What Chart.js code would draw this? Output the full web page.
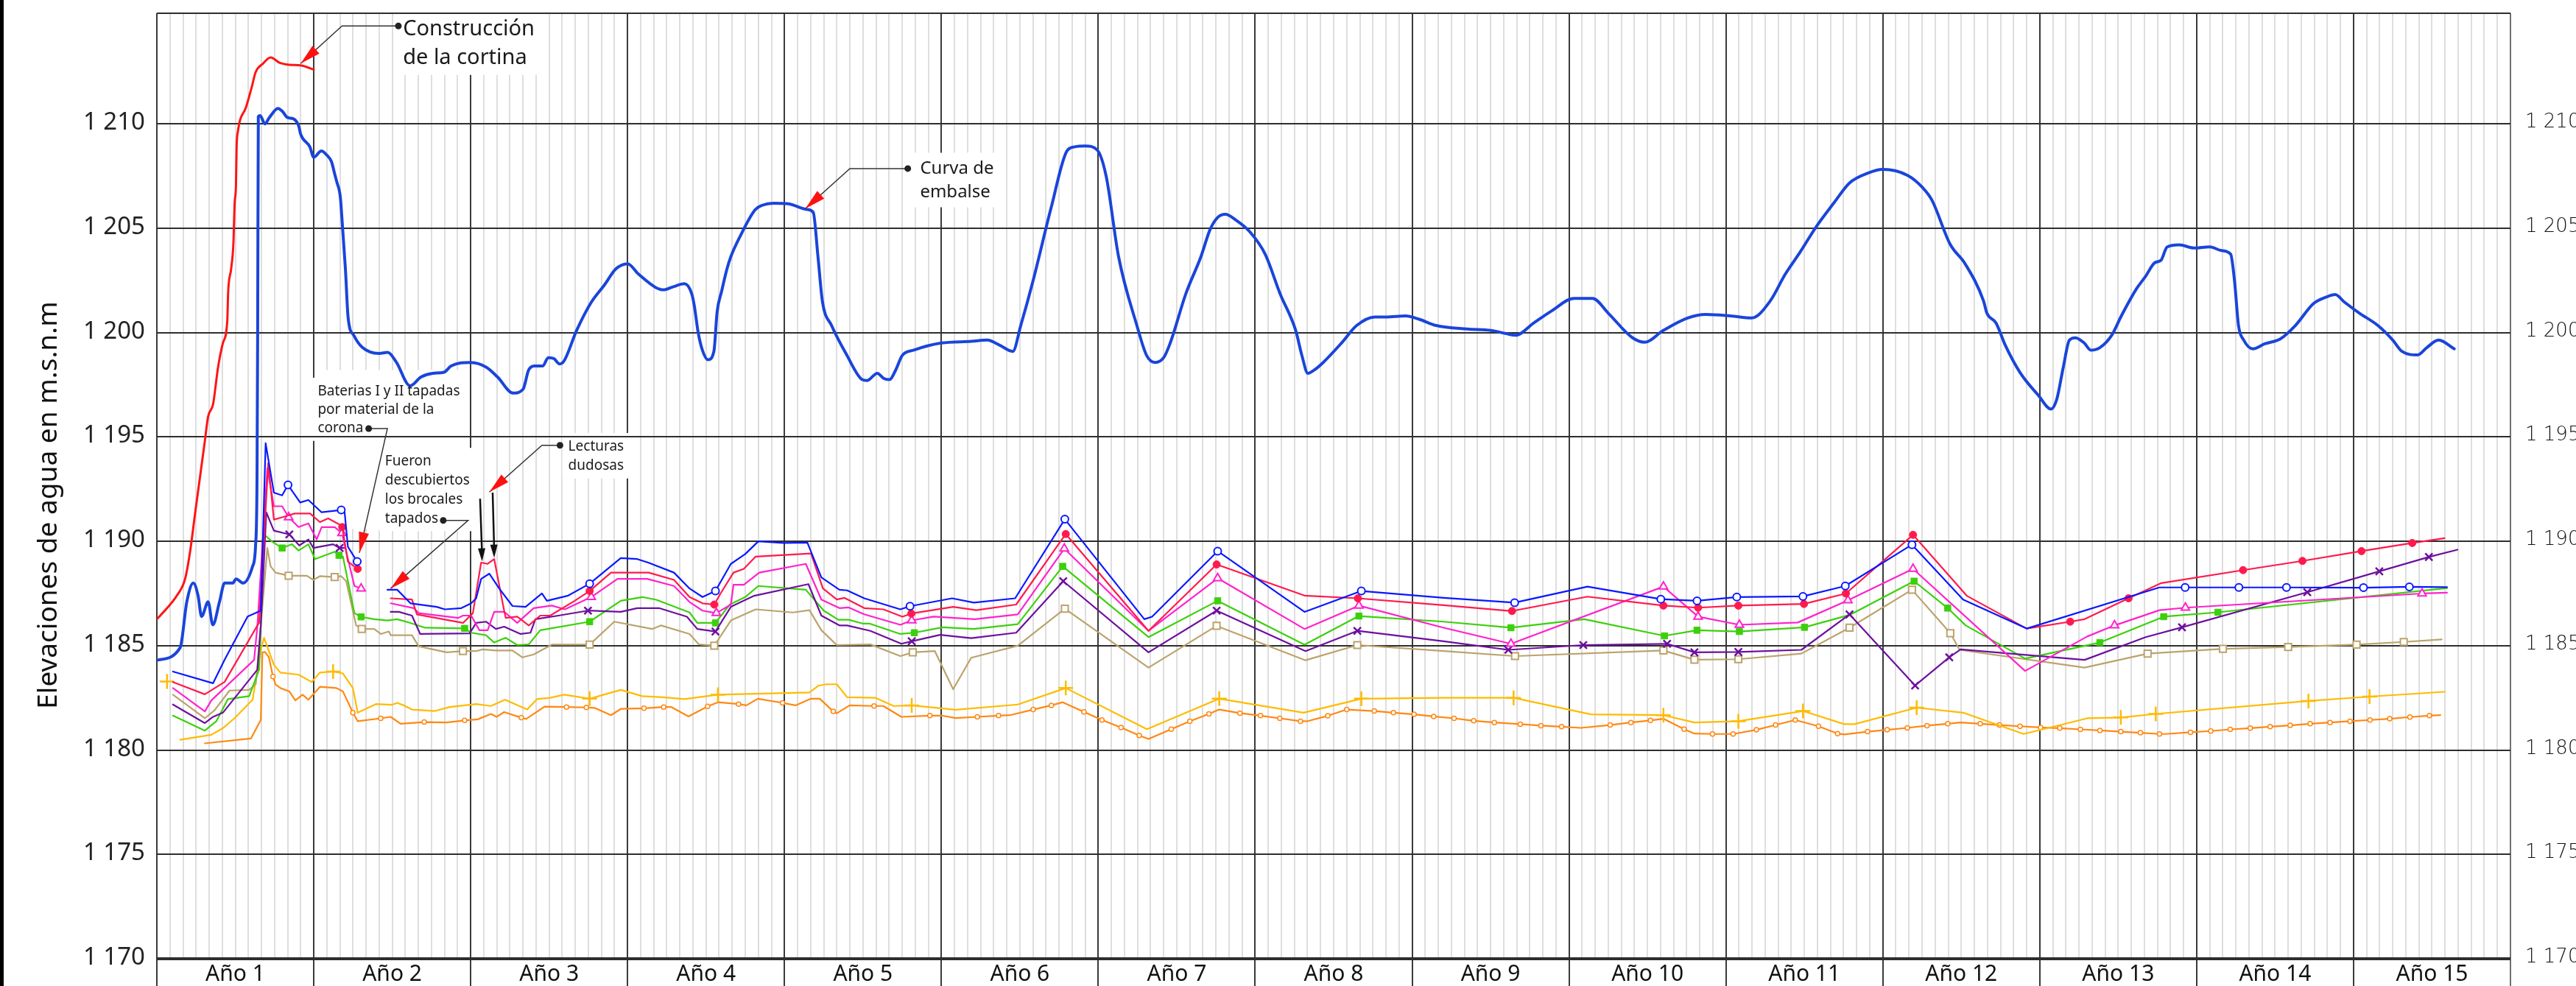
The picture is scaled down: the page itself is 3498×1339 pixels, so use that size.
<!DOCTYPE html>
<html lang="es">
<head>
<meta charset="utf-8">
<title>Elevaciones de agua</title>
<script src="https://cdn.jsdelivr.net/npm/chart.js@4.4.1/dist/chart.umd.min.js"></script>
<style>
  html, body { margin: 0; padding: 0; background: #fff; }
  canvas { display: block; }
</style>
</head>
<body>
<canvas id="chart" width="3498" height="1339" style="width:3498px;height:1339px"></canvas>
<script>
// x = months from the start of year 1, y = elevation (m.s.n.m)
const yearLabels = ["Año 1", "Año 2", "Año 3", "Año 4", "Año 5", "Año 6", "Año 7", "Año 8",
  "Año 9", "Año 10", "Año 11", "Año 12", "Año 13", "Año 14", "Año 15"];
const tickValues = [1170, 1175, 1180, 1185, 1190, 1195, 1200, 1205, 1210];
const tickText = ["1 170", "1 175", "1 180", "1 185", "1 190", "1 195", "1 200", "1 205", "1 210"];
const yTitle = "Elevaciones de agua en m.s.n.m";

// reservoir level
const embalse = [[0,1184.3],[1.78,1184.9],[2.29,1187.1],[2.79,1188.0],[3.15,1187.4],[3.42,1186.4],[3.92,1187.1],
  [4.28,1186.0],[4.79,1187.1],[5.18,1188.0],[5.8,1188.0],[6.06,1188.2],[6.6,1188.0],[7.32,1188.8],[7.55,1189.8],
  [7.66,1193.0],[7.71,1200],[7.76,1210.35],[7.9,1210.4],[8.26,1210.0],[8.6,1210.3],[9.27,1210.74],[9.6,1210.6],
  [10.0,1210.3],[10.42,1210.25],[10.85,1209.9],[11.0,1209.5],[11.7,1208.9],[12.0,1208.4],[12.58,1208.7],
  [13.0,1208.5],[13.35,1208.2],[13.6,1207.6],[13.77,1207.2],[14.03,1206.5],[14.2,1205.05],[14.42,1203.05],
  [14.63,1200.7],[15.06,1199.87],[15.7,1199.3],[17.0,1199.0],[17.65,1199.05],[18.3,1198.6],[19.37,1197.45],
  [20.2,1197.87],[21.1,1198.05],[21.96,1198.1],[22.5,1198.4],[24.0,1198.57],[25.2,1198.34],[26.06,1197.87],
  [27.24,1197.1],[28.0,1197.28],[28.43,1198.2],[28.86,1198.4],[29.5,1198.4],[29.94,1198.8],[30.37,1198.75],
  [30.8,1198.5],[31.13,1198.63],[32.1,1200.1],[33.17,1201.4],[34.25,1202.3],[35.1,1203.05],[36.0,1203.3],
  [36.84,1202.8],[38.13,1202.17],[38.74,1202.05],[39.5,1202.2],[40.35,1202.34],[40.9,1201.87],[41.1,1201.3],
  [41.4,1200.0],[41.7,1199.2],[42.15,1198.7],[42.6,1199.1],[42.85,1201.0],[43.2,1202.0],[43.6,1203.05],
  [43.9,1203.64],[44.58,1204.58],[45.75,1205.88],[46.3,1206.1],[47.15,1206.2],[48.3,1206.17],[49.72,1205.9],
  [50.2,1205.76],[50.56,1203.64],[50.9,1201.5],[51.6,1200.34],[52.76,1198.93],[53.93,1197.75],[54.3,1197.7],
  [55.1,1198.05],[55.6,1197.8],[56.03,1197.75],[56.5,1198.2],[57.0,1198.9],[57.9,1199.16],[60.0,1199.5],
  [62.3,1199.58],[63.5,1199.64],[64.44,1199.4],[65.46,1199.1],[66.07,1200.34],[67.0,1202.46],[68.4,1206.0],
  [69.6,1208.7],[70.2,1208.9],[71.0,1208.94],[71.9,1208.76],[72.6,1207.5],[73.55,1203.64],[74.95,1200.34],
  [75.7,1198.9],[76.35,1198.57],[77.0,1198.8],[77.5,1199.5],[78.7,1201.87],[79.85,1203.64],[80.55,1204.94],
  [81.1,1205.5],[81.72,1205.67],[82.5,1205.4],[83.6,1204.82],[84.76,1203.76],[85.9,1201.87],[87.1,1200.1],
  [87.56,1198.93],[88.03,1198.05],[88.5,1198.2],[89.2,1198.57],[90.6,1199.5],[91.76,1200.34],[93.16,1200.75],
  [94.0,1200.75],[95.5,1200.8],[96.5,1200.65],[97.84,1200.34],[100.2,1200.17],[102.05,1200.1],[103.2,1199.95],
  [103.9,1199.87],[105.3,1200.46],[106.7,1201.05],[108.36,1201.64],[109.8,1201.64],[111.0,1200.93],
  [112.86,1199.75],[113.8,1199.54],[115.2,1200.1],[117.07,1200.7],[118.47,1200.87],[120.34,1200.8],
  [121.97,1200.7],[123.37,1201.5],[124.54,1202.8],[125.7,1203.88],[126.88,1205.05],[128.28,1206.23],
  [129.45,1207.17],[130.85,1207.64],[132.0,1207.82],[133.9,1207.53],[135.05,1206.94],[135.75,1206.35],
  [137.15,1204.23],[138.3,1203.29],[139.7,1201.52],[139.96,1200.93],[140.66,1200.46],[141.36,1199.4],
  [142.53,1198.05],[143.9,1196.99],[144.86,1196.34],[145.3,1196.8],[145.8,1198.34],[146.27,1199.64],
  [146.73,1199.75],[147.4,1199.5],[147.9,1199.16],[148.6,1199.28],[149.5,1199.87],[150.24,1200.8],
  [151.4,1202.1],[152.1,1202.7],[152.8,1203.35],[153.27,1203.46],[153.74,1204.1],[154.67,1204.2],
  [155.84,1204.05],[157.0,1204.11],[157.9,1203.93],[158.6,1203.76],[158.9,1202.46],[159.2,1200.34],
  [159.6,1199.64],[160.3,1199.22],[161.2,1199.46],[162.4,1199.7],[163.55,1200.34],[164.95,1201.4],
  [165.9,1201.7],[166.6,1201.82],[167.3,1201.46],[168.45,1200.93],[169.86,1200.34],[171.0,1199.64],
  [171.7,1199.1],[172.9,1198.93],[173.6,1199.28],[174.5,1199.64],[175.7,1199.22]];

// crest level while the dam was being built
const cortina = [[0,1186.27],[0.78,1186.8],[1.53,1187.4],[2.16,1188.2],[2.54,1189.5],[2.91,1191.27],
  [3.29,1193.04],[3.67,1194.8],[3.92,1195.98],[4.3,1196.57],[4.68,1198.34],[5.05,1199.5],[5.39,1200.6],
  [5.45,1201.9],[5.68,1203.05],[5.85,1204.23],[5.95,1206.2],[6.05,1207.05],[6.1,1208.9],[6.2,1209.64],
  [6.83,1210.82],[7.26,1211.77],[7.55,1212.47],[8.12,1212.89],[8.7,1213.18],[9.41,1212.92],[10.13,1212.83],
  [11.0,1212.8],[12.0,1212.6]];

// piezometer readings: [month, elevation, 1 = marked reading]
const pzAzul = [[1.23,1183.76],[4.3,1183.2],[5.18,1184.32],[6.94,1186.4],[7.95,1186.68],[8.32,1194.7],
  [8.95,1192.33],[9.58,1192.2],[10.03,1192.7,1],[10.96,1191.86],[11.59,1191.98],[12.6,1191.39],[14.1,1191.5,1],
  [14.36,1191.39],[14.61,1189.74],[15.32,1189.03,1],[16.5,null],[17.63,1187.68],[18.38,1187.68],[19.4,1187.03],
  [21.4,1186.86],[22.03,1186.74],[23.29,1186.8],[24.04,1187.03],[24.42,1187.27],[24.8,1188.2],[25.43,1188.45],
  [26.18,1187.74],[27.2,1186.9],[28.2,1186.86],[29.45,1187.5],[29.83,1187.15],[31.46,1187.4],[33.1,1187.97,1],
  [35.48,1189.2],[36.74,1189.15],[37.58,1188.98],[39.55,1188.5],[40.74,1187.74],[41.73,1187.33],
  [42.72,1187.62,1],[43.9,1188.92],[45.0,1189.39],[46.0,1190.0],[47.93,1189.92],[49.75,1189.94],
  [50.82,1188.27],[52.2,1187.68],[52.79,1187.65],[54.1,1187.27],[56.86,1186.74],[57.6,1186.89,1],
  [60.82,1187.27],[62.48,1187.06],[65.64,1187.27],[69.44,1191.06,1],[75.52,1186.27],[76.11,1186.39],
  [81.13,1189.53,1],[87.77,1186.62],[92.12,1187.62,1],[98.42,1187.29],[103.84,1187.06,1],[109.41,1187.83],
  [115.02,1187.23,1],[117.79,1187.15,1],[120.83,1187.33,1],[125.89,1187.36,1],[129.13,1187.86,1],
  [134.23,1189.84,1],[138.14,1187.21],[143.0,1185.82],[153.15,1187.79],[155.12,1187.79,1],[159.23,1187.79,1],
  [162.87,1187.79,1],[168.76,1187.78,1],[172.27,1187.82,1],[175.15,1187.8]];

const pzRojo = [[1.23,1183.26],[3.67,1182.67],[5.18,1183.26],[7.69,1185.97],[7.82,1186.09],[8.52,1193.75],
  [8.95,1191.04],[9.58,1191.15],[10.53,1191.33],[11.72,1191.33],[12.47,1190.92],[13.1,1191.1],[13.98,1190.8],
  [14.18,1190.68,1],[14.61,1189.03],[15.36,1188.68,1],[16.5,null],[17.88,1187.27],[19.51,1187.21],
  [19.89,1186.5],[23.41,1186.09],[24.17,1186.56],[24.8,1188.98],[25.3,1188.92],[25.8,1189.15],[26.56,1186.68],
  [26.68,1186.33],[27.56,1186.39],[28.44,1185.97],[29.32,1186.44],[30.08,1186.44],[31.96,1187.15],
  [33.1,1187.62,1],[34.73,1188.5],[37.62,1188.5],[39.55,1188.15],[40.74,1187.33],[41.73,1187.03],
  [42.63,1186.97,1],[43.11,1187.5],[44.1,1188.5],[44.89,1188.68],[45.8,1189.27],[50.03,1189.42],
  [50.94,1187.74],[52.0,1187.21],[52.6,1187.29],[54.1,1186.8],[55.56,1186.74],[57.02,1186.39],
  [57.7,1186.54,1],[60.9,1186.86],[62.67,1186.7],[65.72,1186.97],[69.51,1190.35,1],[75.84,1185.71],
  [81.05,1188.89,1],[87.77,1187.4],[91.85,1187.27,1],[98.42,1186.94],[103.64,1186.66,1],[109.41,1187.35],
  [115.22,1186.92,1],[117.87,1186.82,1],[120.95,1186.92,1],[125.97,1187.0,1],[129.17,1187.5,1],
  [134.31,1190.31,1],[138.42,1187.39],[143.0,1185.82],[146.33,1186.15,1],[147.43,1186.27],[150.79,1187.27,1],
  [153.3,1188.0],[159.55,1188.62,1],[164.09,1189.06,1],[168.61,1189.53,1],[172.49,1189.92,1],[174.96,1190.15]];

const pzRosa = [[1.23,1182.97],[3.67,1181.85],[4.17,1182.38],[7.44,1184.32],[7.69,1185.97],[8.45,1193.5],
  [8.95,1191.68],[9.58,1191.68],[10.08,1191.15,1],[10.84,1190.68],[11.59,1190.86],[12.22,1190.09],
  [12.6,1190.68],[13.6,1190.68],[14.16,1190.39,1],[14.48,1189.5],[15.11,1187.86],[15.62,1187.74,1],[16.5,null],
  [17.88,1187.03],[19.64,1186.8],[20.02,1186.56],[23.04,1186.33],[23.41,1186.44],[24.04,1186.44],
  [24.67,1185.74],[25.3,1185.74],[25.8,1186.62],[26.56,1186.62],[27.56,1186.09],[28.82,1186.8],[30.2,1186.92],
  [31.21,1186.74],[33.22,1187.33,1],[35.23,1188.2],[37.5,1188.2],[39.55,1187.86],[40.74,1187.09],
  [41.73,1186.68],[42.79,1186.56,1],[43.9,1186.97],[44.1,1187.92],[44.89,1187.92],[46.07,1188.5],
  [49.63,1188.92],[50.82,1187.21],[52.2,1186.8],[52.91,1186.83],[54.1,1186.5],[56.86,1186.0],
  [57.73,1186.21,1],[59.4,1186.39],[62.56,1186.27],[65.84,1186.5],[69.4,1189.65,1],[75.84,1185.71],
  [81.13,1188.23,1],[87.77,1185.8],[91.93,1186.92,1],[98.42,1185.86],[103.56,1185.09,1],[115.22,1187.83,1],
  [117.87,1186.39,1],[121.03,1186.0,1],[125.5,1186.11],[129.33,1187.17,1],[134.31,1188.68,1],
  [142.88,1183.79],[147.63,1185.44],[149.72,1185.97,1],[153.16,1186.7],[155.14,1186.82,1],
  [173.24,1187.5,1],[175.15,1187.54]];

const pzMorado = [[1.23,1182.18],[3.67,1181.29],[4.3,1181.59],[5.05,1181.79],[7.69,1183.85],[7.95,1185.97],
  [8.37,1191.39],[8.95,1190.51],[10.13,1190.33,1],[10.89,1189.8],[11.59,1190.09],[11.97,1189.68],
  [13.48,1189.86],[13.98,1189.68,1],[14.31,1189.68],[16.5,null],[17.88,1186.62],[18.51,1186.62],
  [19.51,1186.44],[20.14,1185.56],[23.92,1185.59],[24.42,1186.09],[25.17,1186.15],[25.93,1185.8],
  [26.56,1185.91],[27.82,1185.56],[28.57,1185.62],[28.95,1186.27],[30.71,1186.44],[32.97,1186.68,1],
  [35.48,1186.62],[36.74,1186.8],[38.4,1186.8],[40.54,1186.39],[41.33,1185.8],[42.72,1185.68,1],
  [43.9,1186.86],[45.68,1187.39],[49.83,1187.95],[50.82,1186.44],[52.2,1185.97],[52.79,1185.97],
  [54.57,1185.71],[56.94,1185.09],[57.73,1185.21,1],[59.9,1185.52],[62.28,1185.36],[65.72,1185.62],
  [69.32,1188.09,1],[75.84,1184.68],[81.05,1186.68,1],[87.85,1184.74],[91.81,1185.71,1],[98.42,1185.21],
  [103.36,1184.8,1],[109.09,1185.03,1],[115.5,1185.09,1],[117.59,1184.68,1],[120.95,1184.7,1],
  [125.77,1184.8],[129.45,1186.5,1],[134.47,1183.09,1],[137.08,1184.44,1],[137.95,1184.82],
  [147.43,1184.32],[152.1,1185.41],[154.88,1185.88,1],[164.46,1187.56,1],[169.97,1188.56,1],
  [173.76,1189.25,1],[175.95,1189.6]];

const pzVerde = [[1.23,1181.65],[3.67,1180.93],[4.55,1181.38],[5.43,1182.44],[7.06,1182.58],[7.82,1183.85],
  [8.2,1190.33],[8.82,1189.98],[9.58,1189.68,1],[10.33,1189.86],[10.84,1189.56],[11.59,1189.86],[12.1,1189.15],
  [13.6,1189.5],[13.93,1189.33,1],[14.23,1189.27],[15.11,1186.56],[15.62,1186.38,1],[16.62,1186.27],
  [17.63,1186.21],[18.38,1186.27],[19.39,1186.09],[20.52,1185.86],[23.54,1185.83,1],[24.04,1185.62],
  [25.17,1185.5],[25.8,1185.15],[26.68,1185.38],[27.56,1185.03],[28.44,1185.06],[29.32,1185.74],
  [33.1,1186.15,1],[35.48,1187.15],[37.12,1187.33],[38.2,1187.2],[40.74,1186.59],[41.33,1186.09],
  [42.72,1186.09,1],[43.82,1186.97],[45.0,1187.33],[46.0,1187.86],[49.63,1187.68],[51.0,1186.68],
  [52.12,1186.24],[52.9,1186.24],[53.98,1186.06],[54.49,1186.06],[56.86,1185.56],[57.93,1185.62,1],
  [60.1,1185.88],[62.48,1185.8],[65.84,1186.03],[69.28,1188.8,1],[75.84,1185.41],[81.13,1187.15,1],
  [87.77,1185.05],[91.93,1186.42,1],[98.42,1186.15],[103.56,1185.86,1],[109.17,1186.27],[115.3,1185.47,1],
  [117.79,1185.74,1],[121.03,1185.68,1],[126.01,1185.88,1],[129.45,1186.47],[134.39,1188.09,1],
  [136.96,1186.8,1],[138.34,1185.97],[142.88,1184.38],[148.6,1185.15,1],[153.48,1186.39,1],
  [157.63,1186.6,1],[175.15,1187.76]];

const pzCafe = [[1.23,1182.65],[3.67,1181.52],[4.42,1181.91],[5.56,1182.85],[7.06,1182.88],[7.57,1183.17],
  [7.95,1185.97],[8.45,1189.68],[8.7,1188.8],[9.08,1188.5],[10.08,1188.35,1],[11.47,1188.35],[11.97,1188.15],
  [12.47,1188.33],[13.6,1188.29,1],[14.1,1188.33],[14.48,1188.09],[15.24,1185.97],[15.67,1185.8,1],
  [16.62,1185.8],[17.12,1185.56],[17.75,1185.68],[17.88,1185.5],[19.51,1185.5],[20.02,1184.97],
  [22.16,1184.68],[23.41,1184.74,1],[24.42,1184.74],[24.92,1184.82],[25.93,1184.77],[27.2,1184.77],
  [27.94,1184.44],[28.82,1184.58],[30.2,1185.05],[33.1,1185.05,1],[34.98,1186.15],[37.88,1185.8],
  [38.57,1185.97],[40.74,1185.56],[41.45,1185.06],[42.63,1185.0,1],[43.9,1186.21],[45.8,1186.74],
  [48.64,1186.59],[49.91,1186.7],[50.82,1185.74],[52.0,1185.03],[54.57,1185.06],[56.86,1184.5],
  [57.81,1184.68,1],[59.5,1184.74],[60.9,1182.91],[62.28,1184.42],[65.84,1185.0],[69.44,1186.77,1],
  [75.84,1183.95],[81.05,1185.95,1],[87.85,1184.3],[91.81,1185.03,1],[98.42,1184.74],[103.87,1184.5,1],
  [115.22,1184.77,1],[117.59,1184.33,1],[120.95,1184.35,1],[125.77,1184.62],[129.45,1185.86,1],
  [134.23,1187.68,1],[137.16,1185.6,1],[137.87,1184.8],[147.43,1183.95],[152.25,1184.62,1],
  [158.01,1184.85,1],[163.0,1184.94,1],[168.23,1185.05,1],[171.84,1185.18,1],[174.74,1185.3]];

const pzAmarillo = [[0.78,1183.28,1],[1.0,null],[1.78,1180.49],[4.17,1180.73],[5.05,1181.05],[5.93,1181.52],
  [7.32,1182.41],[7.95,1184.79],[8.2,1185.38],[8.95,1184.08],[9.45,1183.71],[10.84,1183.61],[11.84,1183.26],
  [12.47,1183.71],[13.48,1183.76,1],[14.23,1183.67],[14.99,1182.97],[15.36,1181.79],[16.75,1182.2],
  [18.0,1182.17],[18.38,1182.26],[18.89,1182.14],[19.51,1181.94],[21.28,1181.87],[22.41,1182.06],
  [24.42,1182.2],[25.55,1182.11],[26.63,1182.41],[28.32,1181.94],[29.07,1182.44],[30.08,1182.5],
  [31.16,1182.65],[33.1,1182.46,1],[35.48,1182.88],[37.12,1182.58],[38.7,1182.53],[40.34,1182.44],
  [42.91,1182.65,1],[49.91,1182.76],[50.62,1183.09],[51.21,1183.15],[52.0,1183.15],[52.79,1182.53],
  [54.97,1182.5],[56.35,1182.11],[57.73,1182.14,1],[61.09,1181.93],[65.84,1182.18],[69.51,1182.97,1],
  [75.72,1181.0],[81.25,1182.46,1],[87.7,1181.79],[92.12,1182.46,1],[98.42,1182.5],[103.76,1182.5,1],
  [109.68,1181.71],[115.22,1181.67,1],[117.59,1181.32],[120.95,1181.38,1],[125.89,1181.87,1],
  [129.05,1181.24],[129.84,1181.24],[134.59,1182.03,1],[138.14,1181.79],[142.77,1180.77],[147.63,1181.52],
  [150.2,1181.56,1],[152.87,1181.73,1],[164.55,1182.35,1],[169.22,1182.56,1],[174.96,1182.79]];

const pzNaranja = [[3.67,1180.32],[7.19,1180.55],[7.95,1181.44],[8.07,1184.67],[8.27,1184.7],[8.57,1184.44],
  [8.88,1183.52,1],[9.08,1183.14],[9.45,1182.97],[10.13,1182.81],[10.59,1182.38],[11.14,1182.65],
  [11.59,1182.41],[12.47,1183.03],[13.73,1182.97],[14.23,1182.81],[14.99,1181.79,1],[15.36,1181.38],
  [17.12,1181.52,1],[17.88,1181.59],[18.64,1181.26],[20.45,1181.34,1],[22.16,1181.32],[23.54,1181.42,1],
  [24.54,1181.47],[25.55,1181.73],[25.98,1181.59],[26.56,1181.82],[27.87,1181.55,1],[28.24,1181.49],
  [29.65,1182.08],[31.33,1182.06,1],[32.85,1182.04,1],[33.47,1182.02],[34.73,1181.67],[35.48,1181.97],
  [37.25,1182.0,1],[38.76,1182.06,1],[39.36,1182.06],[40.66,1181.61],[42.12,1182.09,1],[42.91,1182.29],
  [44.49,1182.2,1],[45.09,1182.14],[45.96,1182.46],[47.85,1182.26,1],[48.84,1182.14],[50.03,1182.46],
  [50.7,1182.46],[51.73,1181.85,1],[52.0,1181.76],[52.99,1182.14],[54.85,1182.11,1],[55.56,1182.11],
  [56.94,1181.59],[59.12,1181.65,1],[60.03,1181.65],[61.09,1181.53],[62.75,1181.59,1],[64.37,1181.65,1],
  [65.24,1181.67],[67.02,1181.94,1],[68.41,1182.14,1],[69.28,1182.29],[70.9,1181.83,1],[72.28,1181.44,1],
  [73.74,1181.08,1],[75.13,1180.7,1],[75.84,1180.53],[77.58,1181.0,1],[79.0,1181.38,1],[80.46,1181.73,1],
  [81.25,1181.94],[82.83,1181.77,1],[84.4,1181.65,1],[85.88,1181.52,1],[87.46,1181.38,1],[87.97,1181.38],
  [89.55,1181.64,1],[91.0,1181.94,1],[93.11,1181.87,1],[94.57,1181.79,1],[96.15,1181.71,1],[97.65,1181.61,1],
  [99.21,1181.52,1],[100.71,1181.4,1],[102.29,1181.32,1],[104.27,1181.24,1],[105.85,1181.17,1],
  [107.43,1181.12,1],[108.89,1181.06],[111.15,1181.2,1],[112.73,1181.32,1],[114.23,1181.42,1],
  [115.22,1181.5],[116.8,1181.0,1],[117.59,1180.79],[118.97,1180.77,1],[120.55,1180.77,1],[122.33,1180.97,1],
  [123.8,1181.2,1],[125.3,1181.44,1],[127.08,1181.14,1],[128.54,1180.79,1],[129.05,1180.75],
  [130.83,1180.88,1],[132.33,1180.97,1],[133.87,1181.06,1],[135.38,1181.17,1],[136.96,1181.26,1],
  [137.95,1181.32],[139.45,1181.26,1],[140.91,1181.2,1],[142.49,1181.14,1],[144.07,1181.08,1],
  [145.53,1181.05,1],[147.11,1180.99,1],[148.6,1180.94,1],[150.2,1180.88,1],[151.7,1180.83,1],
  [153.16,1180.77,1],[153.62,1180.77],[155.53,1180.85,1],[157.08,1180.91,1],[158.57,1180.99,1],
  [160.1,1181.05,1],[161.62,1181.12,1],[163.15,1181.18,1],[164.68,1181.26,1],[166.2,1181.32,1],
  [167.73,1181.38,1],[169.26,1181.44,1],[170.77,1181.5,1],[172.31,1181.58,1],[173.8,1181.65,1],
  [174.64,1181.67]];

// callouts: text anchor (first baseline), leader path ending at the arrow tip,
// optional extra area blanked behind the text
const notes = [
  { lines: ["Construcción", "de la cortina"], at: [18.82, 1214.24], size: 29, lh: 39,
    path: [[18.47, 1214.69], [14.16, 1214.69], [11.0, 1212.89]] },
  { lines: ["Curva de", "embalse"], at: [58.37, 1207.6], size: 24, lh: 32,
    path: [[57.43, 1207.86], [53.0, 1207.86], [49.6, 1205.94]] },
  { lines: ["Baterias I y II tapadas", "por material de la", "corona"], at: [12.3, 1196.99], size: 19, lh: 25,
    path: [[16.2, 1195.4], [17.63, 1195.4], [15.49, 1189.45]], clear: [[12.1, 1198.2], [23.85, 1190.6]] },
  { lines: ["Fueron", "descubiertos", "los brocales", "tapados"], at: [17.45, 1193.63], size: 19, lh: 25.8,
    path: [[21.9, 1191.0], [23.8, 1191.0], [17.88, 1187.74]] },
  { lines: ["Lecturas", "dudosas"], at: [31.46, 1194.34], size: 19, lh: 26,
    path: [[30.83, 1194.6], [29.45, 1194.6], [25.43, 1192.36]] },
];
const doubtArrows = [[[24.72, 1192.04], [24.87, 1189.03]], [[25.68, 1192.33], [25.8, 1189.21]]];

const pts = (arr) => arr.map(([x, y, mark]) => ({ x, y, mark: !!mark }));
const marked = (r) => (c) => (c.raw && c.raw.mark ? r : 0);

function piezo(data, color, style, r, fill, bw) {
  return {
    data: pts(data), borderColor: color, borderWidth: 2.2, tension: 0, spanGaps: false,
    pointStyle: style, pointRadius: marked(r), pointHoverRadius: 0,
    pointBackgroundColor: fill, pointBorderColor: color, pointBorderWidth: bw,
  };
}

const noteFont = (n) => `${n.size}px "Noto Sans"`;

function noteBox(ctx, n, x, y) {
  ctx.font = noteFont(n);
  const w = Math.max(...n.lines.map((s) => ctx.measureText(s).width));
  const left = x.getPixelForValue(n.at[0]);
  const base = y.getPixelForValue(n.at[1]);
  const top = base - n.size * 0.95 - 6;
  const bottom = base + n.lh * (n.lines.length - 1) + n.size * 0.3 + 6;
  return { left: left - 8, top, w: w + 16, h: bottom - top, textLeft: left, base };
}

function head(ctx, x0, y0, x1, y1, len, hw, color) {
  const a = Math.atan2(y1 - y0, x1 - x0);
  const bx = x1 - len * Math.cos(a), by = y1 - len * Math.sin(a);
  const px = -Math.sin(a) * hw, py = Math.cos(a) * hw;
  ctx.fillStyle = color;
  ctx.beginPath();
  ctx.moveTo(x1, y1);
  ctx.lineTo(bx + px, by + py);
  ctx.lineTo(bx - px, by - py);
  ctx.closePath();
  ctx.fill();
}

const frame = {
  id: "frame",
  beforeDatasetsDraw(chart) {
    const { ctx, chartArea: a, scales: { x, y } } = chart;
    const H = chart.height;
    const seg = (x0, y0, x1, y1) => { ctx.beginPath(); ctx.moveTo(x0, y0); ctx.lineTo(x1, y1); ctx.stroke(); };
    ctx.save();
    // monthly grid
    ctx.strokeStyle = "#dedede";
    ctx.lineWidth = 2;
    for (let m = 1; m < 180; m++) {
      if (m % 12 === 0) continue;
      const px = Math.round(x.getPixelForValue(m));
      seg(px, a.top, px, a.bottom);
    }
    // blank area under the year-2 callouts (monthly lines only)
    ctx.fillStyle = "#fff";
    notes.filter((n) => n.clear).forEach((n) => {
      const [[m0, v0], [m1, v1]] = n.clear;
      const x0 = x.getPixelForValue(m0) + 2, x1 = x.getPixelForValue(m1) - 2;
      const y0 = y.getPixelForValue(v0), y1 = y.getPixelForValue(v1);
      ctx.fillRect(x0, y0, x1 - x0, y1 - y0);
    });
    // year separators run down through the label band
    ctx.strokeStyle = "#3a3a3a";
    ctx.lineWidth = 2;
    for (let k = 1; k < 15; k++) {
      const px = Math.round(x.getPixelForValue(k * 12));
      seg(px, a.top, px, H);
    }
    seg(a.left, a.top, a.left, H);
    ctx.strokeStyle = "#707070";
    seg(a.right, a.top, a.right, H);
    // blank space behind callout text
    ctx.fillStyle = "#fff";
    notes.forEach((n) => {
      const b = noteBox(ctx, n, x, y);
      ctx.fillRect(b.left, b.top, b.w, b.h);
    });
    ctx.strokeStyle = "#2e2e2e";
    tickValues.forEach((v) => {
      const py = Math.round(y.getPixelForValue(v));
      ctx.lineWidth = v === 1170 ? 4 : 2.2;
      seg(a.left, py, a.right, py);
    });
    ctx.lineWidth = 2;
    seg(a.left, a.top, a.right, a.top);
    ctx.fillStyle = "#000";
    ctx.fillRect(0, 0, 5, H);
    ctx.restore();
  },
  afterDatasetsDraw(chart) {
    const { ctx, chartArea: a, scales: { x, y } } = chart;
    ctx.save();
    // callouts
    notes.forEach((n) => {
      const b = noteBox(ctx, n, x, y);
      ctx.fillStyle = "#1a1a1a";
      ctx.textAlign = "left";
      ctx.textBaseline = "alphabetic";
      n.lines.forEach((s, i) => ctx.fillText(s, b.textLeft, b.base + i * n.lh));
      const p = n.path.map(([m, v]) => [x.getPixelForValue(m), y.getPixelForValue(v)]);
      ctx.strokeStyle = "#333";
      ctx.lineWidth = 1.5;
      ctx.beginPath();
      p.forEach(([px, py], i) => (i ? ctx.lineTo(px, py) : ctx.moveTo(px, py)));
      ctx.stroke();
      ctx.fillStyle = "#222";
      ctx.beginPath();
      ctx.arc(p[0][0], p[0][1], 4.5, 0, Math.PI * 2);
      ctx.fill();
      const [p0, p1] = p.slice(-2);
      head(ctx, p0[0], p0[1], p1[0], p1[1], 28, 7, "#ff1010");
    });
    doubtArrows.forEach(([s, e]) => {
      const x0 = x.getPixelForValue(s[0]), y0 = y.getPixelForValue(s[1]);
      const x1 = x.getPixelForValue(e[0]), y1 = y.getPixelForValue(e[1]);
      ctx.strokeStyle = "#111";
      ctx.lineWidth = 2.5;
      ctx.beginPath();
      ctx.moveTo(x0, y0);
      ctx.lineTo(x1, y1 - 10);
      ctx.stroke();
      head(ctx, x0, y0, x1, y1, 18, 5, "#111");
    });
    // elevation ticks on both sides
    ctx.textBaseline = "alphabetic";
    tickValues.forEach((v, i) => {
      const py = y.getPixelForValue(v);
      ctx.fillStyle = "#222";
      ctx.font = '33px "Noto Sans"';
      ctx.textAlign = "right";
      ctx.fillText(tickText[i], 197, py + 8);
      ctx.fillStyle = "#111";
      ctx.font = '200 26px "DejaVu Sans"';
      ctx.textAlign = "left";
      ctx.fillText(tickText[i], a.right + 20, py + 5);
    });
    // year labels
    ctx.fillStyle = "#111";
    ctx.font = '30px "Noto Sans"';
    ctx.textAlign = "center";
    yearLabels.forEach((s, k) => ctx.fillText(s, x.getPixelForValue(k * 12 + 6), a.bottom + 30));
    // axis title
    ctx.translate(77, 686);
    ctx.rotate(-Math.PI / 2);
    ctx.font = '37px "Noto Sans"';
    ctx.fillText(yTitle, 0, 0);
    ctx.restore();
  },
};

new Chart(document.getElementById("chart"), {
  type: "line",
  data: {
    datasets: [
      { data: pts(embalse), borderColor: "#1a45da", borderWidth: 4, pointRadius: 0,
        cubicInterpolationMode: "monotone" },
      { data: pts(cortina), borderColor: "#ff1414", borderWidth: 3, pointRadius: 0,
        cubicInterpolationMode: "monotone" },
      piezo(pzAzul, "#0a18ff", "circle", 5, "#fff", 2),
      piezo(pzRojo, "#ff1a4d", "circle", 5, "#ff1a4d", 1),
      piezo(pzRosa, "#ff22cc", "triangle", 6.5, "#fff", 2),
      piezo(pzMorado, "#6c109e", "crossRot", 7, "#6c109e", 2.5),
      piezo(pzVerde, "#3cd00c", "rect", 6, "#3cd00c", 1),
      piezo(pzCafe, "#bba36c", "rect", 6.5, "#fff", 2),
      piezo(pzAmarillo, "#ffbb00", "cross", 10, "#ffbb00", 2.5),
      piezo(pzNaranja, "#ff8812", "circle", 3, "#fff", 1.5),
    ],
  },
  options: {
    responsive: false,
    animation: false,
    devicePixelRatio: 1,
    layout: { padding: { left: 213, right: 89, top: 18, bottom: 37 } },
    plugins: { legend: { display: false }, tooltip: { enabled: false } },
    elements: { line: { borderJoinStyle: "round", borderCapStyle: "round" } },
    scales: {
      x: { type: "linear", min: 0, max: 180, display: false },
      y: { type: "linear", min: 1170, max: 1215.3, display: false },
    },
  },
  plugins: [frame],
});
</script>
</body>
</html>
